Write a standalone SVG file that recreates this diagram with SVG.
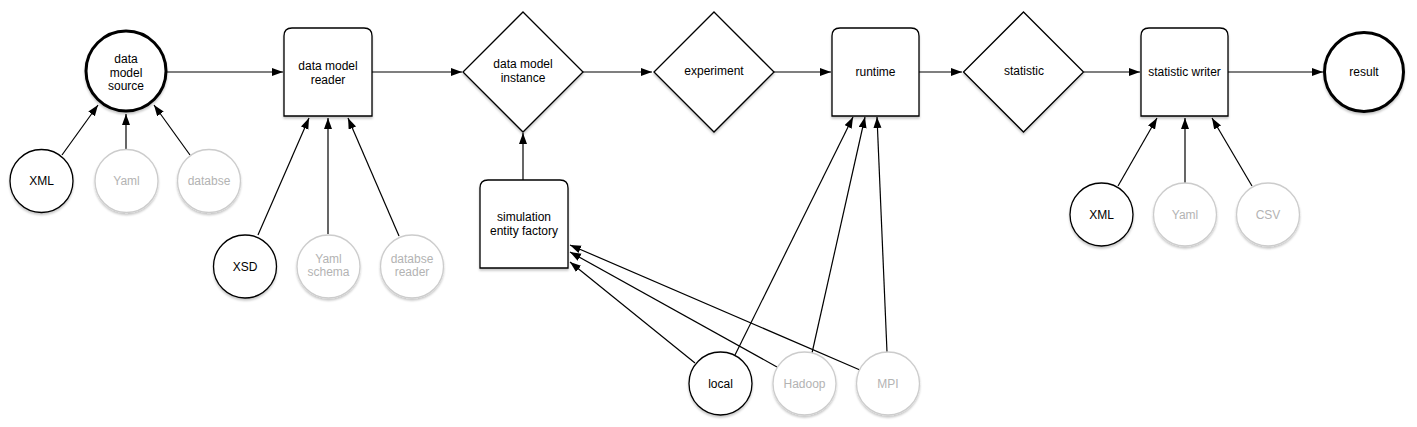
<svg xmlns="http://www.w3.org/2000/svg" width="1417" height="427" viewBox="0 0 1417 427">
<defs>
<style>
text{font-family:"Liberation Sans",Arial,Helvetica,sans-serif;font-size:12px;text-anchor:middle;dominant-baseline:central;fill:#000}
.g text{fill:#b3b3b3}
.shape{fill:#fff;stroke:#000;stroke-width:1.3}
.thick{fill:#fff;stroke:#000;stroke-width:3}
.grey{fill:#fff;stroke:#cccccc;stroke-width:1.3}
.edge{fill:none;stroke:#000;stroke-width:1.2;marker-end:url(#arr)}
.sh{filter:url(#shadow)}
</style>
<filter id="shadow" x="-20%" y="-20%" width="140%" height="150%">
<feDropShadow dx="0" dy="2" stdDeviation="1.2" flood-color="#000" flood-opacity="0.22"/>
</filter>
<marker id="arr" markerUnits="userSpaceOnUse" markerWidth="12" markerHeight="10" refX="11" refY="4" orient="auto">
<path d="M0,0 L11,4 L0,8 z" fill="#000"/>
</marker>
</defs>
<rect width="1417" height="427" fill="#fff"/>

<g id="connectors">
<line class="edge" x1="167" y1="72" x2="283" y2="72"/>
<line class="edge" x1="372" y1="72" x2="462" y2="72"/>
<line class="edge" x1="583" y1="72" x2="652" y2="72"/>
<line class="edge" x1="774" y1="72" x2="831" y2="72"/>
<line class="edge" x1="919" y1="72" x2="962" y2="72"/>
<line class="edge" x1="1084" y1="72" x2="1140" y2="72"/>
<line class="edge" x1="1228" y1="72" x2="1323" y2="72"/>
<line class="edge" x1="62" y1="155" x2="98" y2="105"/>
<line class="edge" x1="126" y1="149" x2="126" y2="114"/>
<line class="edge" x1="190" y1="155" x2="154" y2="105"/>
<line class="edge" x1="258" y1="235" x2="309" y2="118"/>
<line class="edge" x1="328" y1="234" x2="328" y2="118"/>
<line class="edge" x1="399" y1="236" x2="348" y2="118"/>
<line class="edge" x1="523" y1="180" x2="523" y2="133"/>
<line class="edge" x1="695" y1="363" x2="570" y2="262"/>
<line class="edge" x1="777" y1="367" x2="570" y2="252"/>
<line class="edge" x1="860" y1="370" x2="570" y2="245"/>
<line class="edge" x1="735" y1="355" x2="853" y2="117"/>
<line class="edge" x1="812" y1="353" x2="865" y2="117"/>
<line class="edge" x1="887" y1="352" x2="877" y2="117"/>
<line class="edge" x1="1118" y1="186" x2="1157" y2="118"/>
<line class="edge" x1="1185" y1="183" x2="1185" y2="118"/>
<line class="edge" x1="1252" y1="186" x2="1212" y2="118"/>
</g>

<g id="data-model-source"><circle class="thick sh" cx="126" cy="71" r="40"/>
<text x="126" y="59">data</text><text x="126" y="73">model</text><text x="126" y="86">source</text></g>
<g id="xml-1"><circle class="shape sh" cx="41.5" cy="181" r="31.5"/><text x="41.5" y="181">XML</text></g>
<g id="yaml-1" class="g"><circle class="grey sh" cx="126.5" cy="181" r="31.5"/><text x="126.5" y="181">Yaml</text></g>
<g id="databse" class="g"><circle class="grey sh" cx="209" cy="181" r="31.5"/><text x="209" y="181">databse</text></g>

<g id="data-model-reader"><path class="shape sh" d="M284,116 V36 Q284,28 292,28 H364 Q372,28 372,36 V116 Z"/>
<text x="328" y="66">data model</text><text x="328" y="80">reader</text></g>
<g id="xsd"><circle class="shape sh" cx="245" cy="266.5" r="31.5"/><text x="245" y="266.5">XSD</text></g>
<g id="yaml-schema" class="g"><circle class="grey sh" cx="328.5" cy="266.5" r="31.5"/><text x="328.5" y="259">Yaml</text><text x="328.5" y="272">schema</text></g>
<g id="databse-reader" class="g"><circle class="grey sh" cx="412" cy="266.5" r="31.5"/><text x="412" y="259">databse</text><text x="412" y="272">reader</text></g>

<g id="data-model-instance"><polygon class="shape sh" points="523,12 583,72 523,132 463,72"/>
<text x="523" y="64">data model</text><text x="523" y="78">instance</text></g>
<g id="simulation-entity-factory"><path class="shape sh" d="M480,268 V188 Q480,180 488,180 H560 Q568,180 568,188 V268 Z"/>
<text x="524" y="217">simulation</text><text x="524" y="231">entity factory</text></g>

<g id="experiment"><polygon class="shape sh" points="714,12 774,72 714,132 654,72"/>
<text x="714" y="71">experiment</text></g>

<g id="runtime"><path class="shape sh" d="M832,116 V36 Q832,28 840,28 H911 Q919,28 919,36 V116 Z"/>
<text x="875.5" y="72">runtime</text></g>
<g id="local"><circle class="shape sh" cx="720.5" cy="383.5" r="31.5"/><text x="720.5" y="384">local</text></g>
<g id="hadoop" class="g"><circle class="grey sh" cx="804.5" cy="383.5" r="31.5"/><text x="804.5" y="384">Hadoop</text></g>
<g id="mpi" class="g"><circle class="grey sh" cx="888" cy="383.5" r="31.5"/><text x="888" y="384">MPI</text></g>

<g id="statistic"><polygon class="shape sh" points="1023.5,12 1083.5,72 1023.5,132 963.5,72"/>
<text x="1024" y="71">statistic</text></g>

<g id="statistic-writer"><path class="shape sh" d="M1141,116 V36 Q1141,28 1149,28 H1220 Q1228,28 1228,36 V116 Z"/>
<text x="1184.5" y="72">statistic writer</text></g>
<g id="xml-2"><circle class="shape sh" cx="1101.5" cy="214.5" r="31.5"/><text x="1101.5" y="214.5">XML</text></g>
<g id="yaml-2" class="g"><circle class="grey sh" cx="1185" cy="214.5" r="31.5"/><text x="1185" y="214.5">Yaml</text></g>
<g id="csv" class="g"><circle class="grey sh" cx="1268" cy="214.5" r="31.5"/><text x="1268" y="214.5">CSV</text></g>

<g id="result"><circle class="thick sh" cx="1364" cy="72" r="39.5"/><text x="1364" y="72">result</text></g>
</svg>
